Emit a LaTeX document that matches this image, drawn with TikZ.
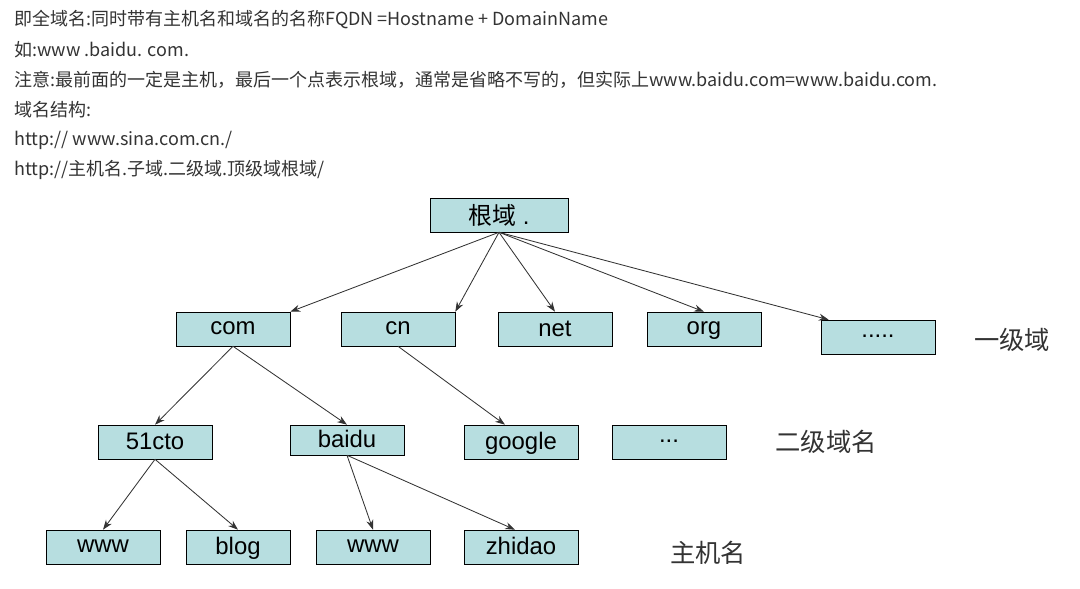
\documentclass[tikz,border=0pt]{standalone}
\usepackage{fontspec}
\setmainfont{Liberation Sans}
\newfontfamily\cjk{Noto Sans CJK SC}
\usetikzlibrary{arrows.meta}
\begin{document}
\begin{tikzpicture}[x=0.025cm,y=-0.025cm,
  bx/.style={draw=black,fill=boxc,minimum width=2.85cm,minimum height=0.85cm,inner sep=0pt,text depth=0.1em,font=\fontsize{17}{19}\selectfont},
  ln/.style={anchor=west,text=txt,font=\cjk\fontsize{12.8}{14}\selectfont,inner sep=0pt},
  lv/.style={font=\cjk\fontsize{18}{20}\selectfont,text=txt},
  ar/.style={-{Stealth[length=7pt,width=5pt]},draw=black!80,line width=0.6pt}]
\definecolor{boxc}{HTML}{B7DEE0}
\definecolor{txt}{HTML}{333333}
\useasboundingbox (0,0) rectangle (1080,589);
\node[ln] (t1) at (14,20) {即全域名:同时带有主机名和域名的名称FQDN =Hostname + DomainName};
\node[ln] (t2) at (14,50) {如:www .baidu. com.};
\node[ln] (t3) at (14,80) {注意:最前面的一定是主机，最后一个点表示根域，通常是省略不写的，但实际上www.baidu.com=www.baidu.com.};
\node[ln] (t4) at (14,110) {域名结构:};
\node[ln] (t5) at (14,140) {http:// www.sina.com.cn./};
\node[ln] (t6) at (14,170) {http://主机名.子域.二级域.顶级域根域/};
\node[bx,minimum width=3.45cm] (root) at (499,215) {{\cjk 根域} .};
\node[bx] (com) at (233,329) {com};
\node[bx] (cn) at (398,329) {cn};
\node[bx] (net) at (555,329) {net};
\node[bx] (org) at (704,329) {org};
\node[bx] (dots) at (878,337) {.....};
\node[lv] (l1) at (1012,340) {一级域};
\node[bx] (cto) at (155,442) {51cto};
\node[bx,minimum height=0.75cm] (baidu) at (347,440) {baidu};
\node[bx] (google) at (521,442) {google};
\node[bx] (dd) at (669,442) {...};
\node[lv] (l2) at (826,442) {二级域名};
\node[bx] (w1) at (103,547) {www};
\node[bx,minimum width=2.6cm] (blog) at (238,547) {blog};
\node[bx] (w2) at (373,547) {www};
\node[bx] (zd) at (521,547) {zhidao};
\node[lv] (l3) at (708,553) {主机名};
\draw[ar] (root.south) -- (com.north east);
\draw[ar] (root.south) -- (cn.north east);
\draw[ar] (root.south) -- (net.north);
\draw[ar] (root.south) -- (org.north);
\draw[ar] (root.south) -- ([xshift=0.2cm]dots.north west);
\draw[ar] (com.south) -- (cto.north);
\draw[ar] (com.south) -- (baidu.north);
\draw[ar] (cn.south) -- ([xshift=-0.4cm]google.north);
\draw[ar] (cto.south) -- (w1.north);
\draw[ar] (cto.south) -- (blog.north);
\draw[ar] (baidu.south) -- (w2.north);
\draw[ar] (baidu.south) -- ([xshift=-0.15cm]zd.north);
\end{tikzpicture}
\end{document}
